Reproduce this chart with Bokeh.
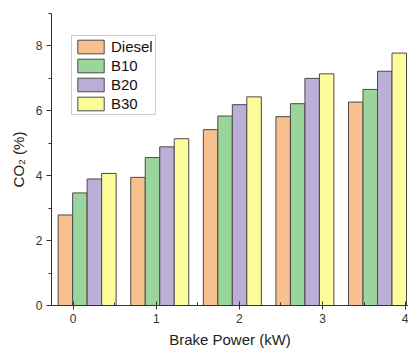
from bokeh.plotting import figure
from bokeh.models import ColumnDataSource, SingleIntervalTicker, Range1d, Legend, LegendItem
from bokeh.embed import file_html
from bokeh.resources import INLINE

# Data
fuels = ["Diesel", "B10", "B20", "B30"]
diesel = [2.79, 3.95, 5.42, 5.82, 6.27]
b10 = [3.47, 4.56, 5.84, 6.22, 6.66]
b20 = [3.90, 4.89, 6.19, 7.00, 7.22]
b30 = [4.07, 5.14, 6.43, 7.14, 7.78]
colors = ["#F9C08F", "#9AD69B", "#BCAED6", "#FDFC9B"]
x_ticks = [0, 1, 2, 3, 4]

series = [diesel, b10, b20, b30]

# layout (group placement on the numeric axis)
g0 = 0.168
step = 0.8735
bw = 0.1745
n_groups = len(diesel)
centers = [g0 + i * step for i in range(n_groups)]
offsets = [-1.5 * bw, -0.5 * bw, 0.5 * bw, 1.5 * bw]

p = figure(width=408, height=352, output_backend="svg", toolbar_location=None,
           x_range=Range1d(-0.261, 4.035), y_range=Range1d(0, 9),
           min_border_left=51, min_border_right=0, min_border_top=13, min_border_bottom=47)
p.outline_line_color = None
p.xgrid.visible = False
p.ygrid.visible = False
p.background_fill_color = "white"

items = []
for name, vals, col, off in zip(fuels, series, colors, offsets):
    src = ColumnDataSource(dict(x=[c + off for c in centers], top=vals))
    r = p.vbar(x="x", top="top", bottom=0, width=bw, source=src,
               fill_color=col, line_color="#4a4a4a", line_width=1)
    items.append(LegendItem(label=name, renderers=[r]))

legend = Legend(items=items, location=(20, 190))
legend.label_text_font = "Liberation Sans"
legend.label_text_font_size = "15px"
legend.label_text_color = "#111111"
legend.glyph_width = 33
legend.glyph_height = 17
legend.label_height = 17
legend.label_standoff = 4
legend.spacing = 2
legend.padding = 2
legend.margin = 0
legend.border_line_color = "#999999"
legend.border_line_width = 1
legend.background_fill_alpha = 1
p.add_layout(legend, "center")

p.xaxis.ticker = SingleIntervalTicker(interval=1, num_minor_ticks=2)
p.yaxis.ticker = SingleIntervalTicker(interval=2, num_minor_ticks=2)

for ax in (p.xaxis, p.yaxis):
    ax.axis_line_color = "#333333"
    ax.major_tick_line_color = "#333333"
    ax.minor_tick_line_color = "#333333"
    ax.major_label_text_font = "Liberation Sans"
    ax.major_label_text_font_size = "12px"
    ax.major_label_text_color = "#333333"
    ax.axis_label_text_font = "Liberation Sans"
    ax.axis_label_text_font_size = "15px"
    ax.axis_label_text_font_style = "normal"
    ax.axis_label_text_color = "#222222"

p.xaxis.axis_label = "Brake Power (kW)"
p.yaxis.axis_label = "CO\u2082 (%)"
p.xaxis.major_tick_in = 4
p.xaxis.major_tick_out = 4
p.xaxis.minor_tick_in = 3
p.xaxis.minor_tick_out = 0
p.yaxis.major_tick_in = 0
p.yaxis.major_tick_out = 5
p.yaxis.minor_tick_in = 0
p.yaxis.minor_tick_out = 3
p.xaxis.major_label_standoff = 4
p.yaxis.major_label_standoff = 4
p.xaxis.axis_label_standoff = 5
p.yaxis.axis_label_standoff = 6

open("out.html", "w").write(file_html(p, INLINE))
